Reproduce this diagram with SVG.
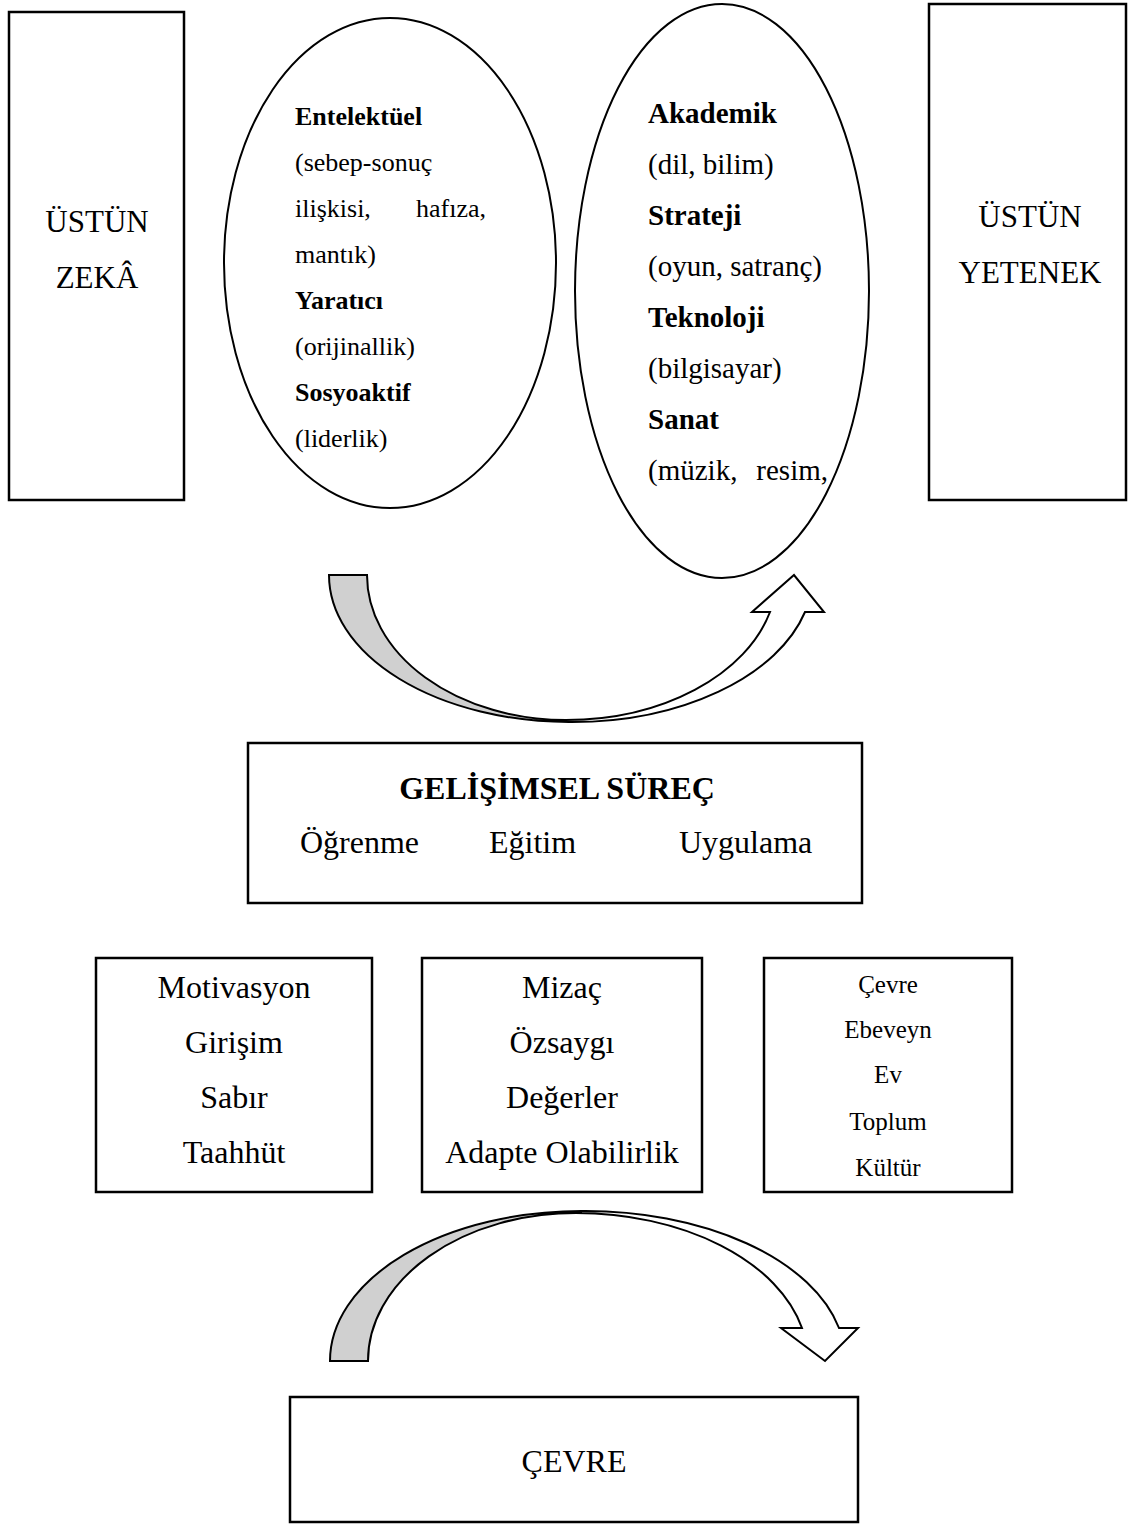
<svg xmlns="http://www.w3.org/2000/svg" width="1135" height="1525" viewBox="0 0 1135 1525">
  <style>
    .box { fill: #fff; stroke: #000; stroke-width: 2.5; }
    .oval { fill: #fff; stroke: #000; stroke-width: 2; }
    .arrow-back { fill: #d0d0d0; stroke: #000; stroke-width: 2; stroke-linejoin: miter; }
    .arrow-front { fill: #fff; stroke: #000; stroke-width: 2; stroke-linejoin: miter; }
    text { font-family: "Liberation Serif", "Times New Roman", serif; fill: #000; }
    .big { font-size: 32px; }
    .side { font-size: 31px; }
    .mid { font-size: 25px; }
    .o1 { font-size: 26px; }
    .o2 { font-size: 29px; }
    .b { font-weight: bold; }
    .c { text-anchor: middle; }
    .e { text-anchor: end; }
  </style>

  <rect width="1135" height="1525" fill="#fff"/>

  <!-- curved connectors -->
  <g id="connectors">
    <!-- upper arrow: from the intelligence oval round to the talent oval -->
    <g id="arrow-top">
      <path class="arrow-back" d="M 329 575 H 367 A 199 145 0 0 0 566 720 L 569 722 A 241 147 0 0 1 329 575 Z"/>
      <path class="arrow-front" d="M 566 720 A 211 145 0 0 0 770 612 L 752 612 L 794 575 L 824 612 L 805 612 A 241 147 0 0 1 569 722 Z"/>
    </g>
    <!-- lower arrow: from the factor boxes down to the environment box -->
    <g id="arrow-bottom">
      <path class="arrow-back" d="M 330 1361 A 252 150 0 0 1 582 1211 L 576 1213 A 208 148 0 0 0 368 1361 Z"/>
      <path class="arrow-front" d="M 582 1211 A 260 150 0 0 1 839 1328 L 858 1328 L 825 1361 L 781 1328 L 802 1328 A 232 148 0 0 0 576 1213 Z"/>
    </g>
  </g>

  <g id="node-ustun-zeka">
    <rect class="box" x="9" y="12" width="175" height="488"/>
    <text class="side c" x="97" y="232">ÜSTÜN</text>
    <text class="side c" x="97" y="288">ZEKÂ</text>
  </g>

  <g id="node-zeka-alanlari">
    <ellipse class="oval" cx="390" cy="263" rx="166" ry="245"/>
    <text class="o1 b" x="295" y="125">Entelektüel</text>
    <text class="o1" x="295" y="171">(sebep-sonuç</text>
    <text class="o1" x="295" y="217">ilişkisi,</text>
    <text class="o1 e" x="486" y="217">hafıza,</text>
    <text class="o1" x="295" y="263">mantık)</text>
    <text class="o1 b" x="295" y="309">Yaratıcı</text>
    <text class="o1" x="295" y="355">(orijinallik)</text>
    <text class="o1 b" x="295" y="401">Sosyoaktif</text>
    <text class="o1" x="295" y="447">(liderlik)</text>
  </g>

  <g id="node-yetenek-alanlari">
    <ellipse class="oval" cx="722" cy="291" rx="147" ry="287"/>
    <text class="o2 b" x="648" y="123">Akademik</text>
    <text class="o2" x="648" y="174">(dil, bilim)</text>
    <text class="o2 b" x="648" y="225">Strateji</text>
    <text class="o2" x="648" y="276">(oyun, satranç)</text>
    <text class="o2 b" x="648" y="327">Teknoloji</text>
    <text class="o2" x="648" y="378">(bilgisayar)</text>
    <text class="o2 b" x="648" y="429">Sanat</text>
    <text class="o2" x="648" y="480">(müzik,</text>
    <text class="o2 e" x="828" y="480">resim,</text>
  </g>

  <g id="node-ustun-yetenek">
    <rect class="box" x="929" y="4" width="197" height="496"/>
    <text class="side c" x="1030" y="227">ÜSTÜN</text>
    <text class="side c" x="1030" y="283">YETENEK</text>
  </g>

  <g id="node-gelisimsel-surec">
    <rect class="box" x="248" y="743" width="614" height="160"/>
    <text class="big b c" x="557" y="799">GELİŞİMSEL SÜREÇ</text>
    <text class="big" x="300" y="853">Öğrenme</text>
    <text class="big" x="489" y="853">Eğitim</text>
    <text class="big" x="679" y="853">Uygulama</text>
  </g>

  <g id="node-kisisel">
    <rect class="box" x="96" y="958" width="276" height="234"/>
    <text class="big c" x="234" y="998">Motivasyon</text>
    <text class="big c" x="234" y="1053">Girişim</text>
    <text class="big c" x="234" y="1108">Sabır</text>
    <text class="big c" x="234" y="1163">Taahhüt</text>
  </g>

  <g id="node-kisilik">
    <rect class="box" x="422" y="958" width="280" height="234"/>
    <text class="big c" x="562" y="998">Mizaç</text>
    <text class="big c" x="562" y="1053">Özsaygı</text>
    <text class="big c" x="562" y="1108">Değerler</text>
    <text class="big c" x="562" y="1163">Adapte Olabilirlik</text>
  </g>

  <g id="node-cevresel">
    <rect class="box" x="764" y="958" width="248" height="234"/>
    <text class="mid c" x="888" y="993">Çevre</text>
    <text class="mid c" x="888" y="1038">Ebeveyn</text>
    <text class="mid c" x="888" y="1083">Ev</text>
    <text class="mid c" x="888" y="1130">Toplum</text>
    <text class="mid c" x="888" y="1176">Kültür</text>
  </g>

  <g id="node-cevre">
    <rect class="box" x="290" y="1397" width="568" height="125"/>
    <text class="big c" x="574" y="1472">ÇEVRE</text>
  </g>
</svg>
